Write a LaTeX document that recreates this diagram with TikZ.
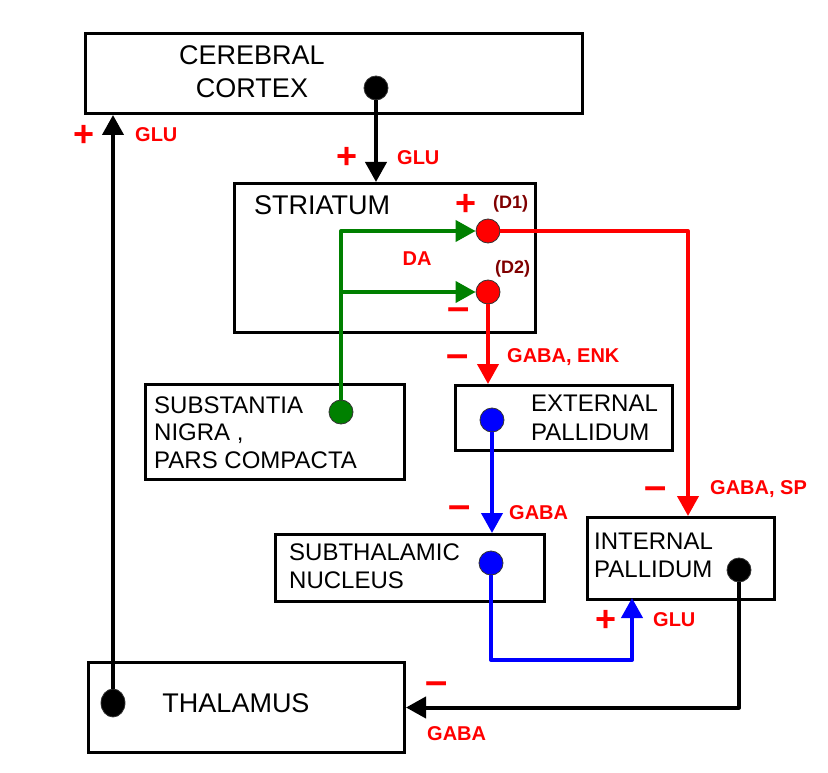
\documentclass[tikz,border=0pt]{standalone}
\usepackage{fontspec}
\setmainfont{Liberation Sans}
\usetikzlibrary{arrows.meta,calc,shapes.geometric}
\definecolor{dred}{RGB}{128,0,0}
\definecolor{dgreen}{RGB}{0,128,0}
\begin{document}
\begin{tikzpicture}[x=1pt,y=-1pt,
 box/.style={draw=black, line width=3pt, fill=white, inner sep=0pt, anchor=north west},
 lbl/.style={font=\fontsize{24}{28}\selectfont, inner sep=0pt, align=left, anchor=north west},
 big/.style={font=\fontsize{27}{33}\selectfont, inner sep=0pt},
 rlbl/.style={text=red, font=\bfseries\fontsize{20}{24}\selectfont, inner sep=0pt, anchor=west},
 dlbl/.style={text=dred, font=\bfseries\fontsize{18}{22}\selectfont, inner sep=0pt, anchor=west},
 plussign/.style={text=red, font=\bfseries\fontsize{36}{36}\selectfont, inner sep=0pt},
 minussign/.style={text=red, font=\bfseries\fontsize{40}{40}\selectfont, inner sep=0pt},
 dot/.style={circle, minimum size=24pt, inner sep=0pt, draw=black!80, line width=0.8pt},
 conn/.style={line width=4pt, line join=round, -{Triangle[width=21pt,length=20pt]}},
]
\useasboundingbox[fill=white] (0,0) rectangle (828,773);

% boxes
\node[box, minimum width=497pt, minimum height=80pt] (cortex) at (84,32) {};
\node[box, minimum width=301pt, minimum height=149pt] (striatum) at (233,182) {};
\node[box, minimum width=259pt, minimum height=95pt] (sn) at (144,383) {};
\node[box, minimum width=217pt, minimum height=65pt] (ep) at (454,384) {};
\node[box, minimum width=269pt, minimum height=67pt] (stn) at (274,533) {};
\node[box, minimum width=187pt, minimum height=82pt] (ip) at (586,516) {};
\node[box, minimum width=316pt, minimum height=90pt] (thal) at (87,661) {};

% box texts
\node[big, align=center, anchor=north] (tcx) at (252,45) {CEREBRAL\\CORTEX};
\node[big, anchor=west] (tstr) at (254,205) {STRIATUM};
\node[lbl, font=\fontsize{24}{27.5}\selectfont] (tsn) at (154,396.4) {SUBSTANTIA\\NIGRA ,\\PARS COMPACTA};
\node[lbl, font=\fontsize{24}{29}\selectfont] (tep) at (531,394.4) {EXTERNAL\\PALLIDUM};
\node[lbl] (tstn) at (289,543.4) {SUBTHALAMIC\\NUCLEUS};
\node[lbl] (tip) at (594,532.4) {INTERNAL\\PALLIDUM};
\node[big] (tth) at (236,703) {THALAMUS};

% dots
\node[dot, fill=black] (cxdot) at (376,88) {};
\node[dot, ellipse, fill=black, minimum width=24pt, minimum height=28pt] (thdot) at (113,703) {};
\node[dot, fill=dgreen] (sndot) at (341,412) {};
\node[dot, fill=red] (d1) at (488,231) {};
\node[dot, fill=red] (d2) at (488,292) {};
\node[dot, fill=blue] (epdot) at (492,420) {};
\node[dot, fill=blue] (stndot) at (491,563) {};
\node[dot, fill=black] (ipdot) at (739,570) {};

\coordinate (ipin) at (688,516);
\coordinate (ipbot) at (632,598);

% connectors
\draw[conn] (cxdot) -- (cxdot |- striatum.north);
\draw[conn] (thdot) -- (thdot |- cortex.south);
\draw[conn, dgreen] (sndot) |- (d1);
\draw[conn, dgreen] (sndot |- d2) -- (d2);
\draw[conn, red] (d1) -| (ipin);
\draw[conn, red] (d2) -- (d2 |- ep.north);
\draw[conn, blue] (epdot) -- (epdot |- stn.north);
\draw[conn, blue] (stndot) -- ++(0,97) -| (ipbot);
\draw[conn] (ipdot) |- (thal.east);

% signs and transmitter labels
\node[plussign] (p1) at (84,136) {+};
\node[rlbl] (g1) at (135,135) {GLU};
\node[plussign] (p2) at (347,158) {+};
\node[rlbl] (g2) at (397,158) {GLU};
\node[plussign] (p3) at (466,205) {+};
\node[dlbl] (dd1) at (493,204) {(D1)};
\node[rlbl, anchor=center] (da) at (417,259) {DA};
\node[dlbl] (dd2) at (495,269) {(D2)};
\node[minussign] (m1) at (459,314) {–};
\node[minussign] (m2) at (458,361) {–};
\node[rlbl] (g3) at (507,357) {GABA, ENK};
\node[minussign] (m3) at (460,512) {–};
\node[rlbl] (g4) at (509,513) {GABA};
\node[minussign] (m4) at (656,493) {–};
\node[rlbl] (g5) at (710,489) {GABA, SP};
\node[plussign] (p4) at (606,621) {+};
\node[rlbl] (g6) at (653,620) {GLU};
\node[minussign] (m5) at (437,688) {–};
\node[rlbl] (g7) at (427,734) {GABA};
\end{tikzpicture}
\end{document}
